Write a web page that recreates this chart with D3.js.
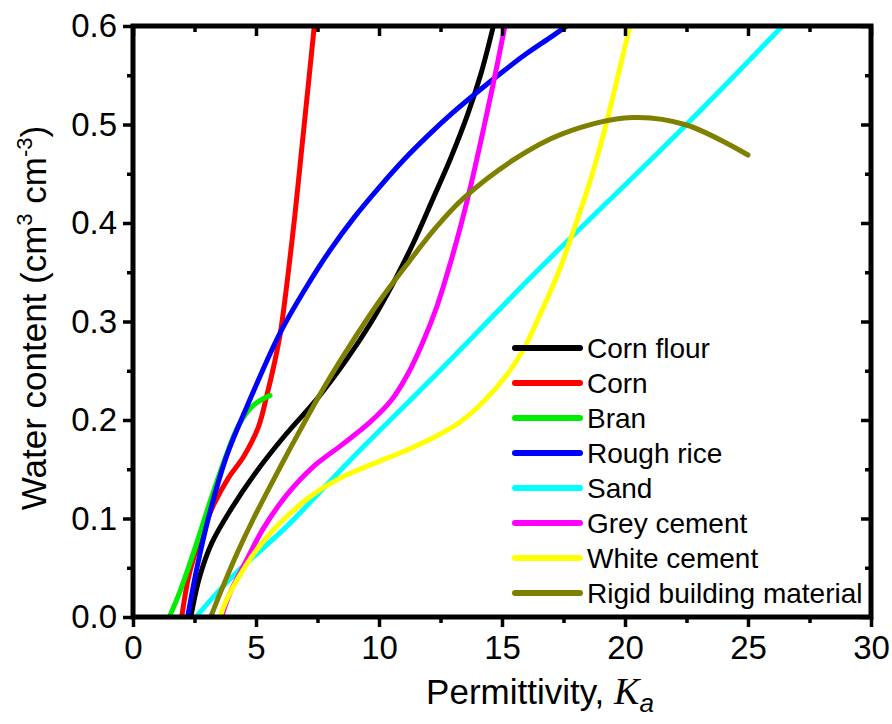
<!DOCTYPE html>
<html>
<head>
<meta charset="utf-8">
<script src="https://cdn.jsdelivr.net/npm/d3@7"></script>
<style>
  html, body { margin: 0; padding: 0; background: #fff; }
  svg { display: block; }
  text { font-family: "Liberation Sans", Arial, sans-serif; fill: #000; }
</style>
</head>
<body>
<svg id="chart" width="892" height="724"></svg>
<script>
// Calibration curves: volumetric water content vs apparent permittivity
const seriesNames = ["Corn flour", "Corn", "Bran", "Rough rice", "Sand", "Grey cement", "White cement", "Rigid building material"];
const seriesColors = ["#000000", "#ff0000", "#00ee00", "#0000ff", "#00ffff", "#ff00ff", "#ffff00", "#808000"];

// [permittivity Ka, water content]
const cornFlour = [[2.35,0],[2.7,0.04],[3.2,0.075],[4.0,0.11],[5.0,0.147],[6.2,0.185],[7.5,0.222],[8.7,0.262],[9.7,0.3],[10.6,0.34],[11.4,0.38],[12.2,0.425],[12.9,0.465],[13.6,0.51],[14.15,0.552],[14.65,0.6]];
const corn = [[1.98,0],[2.3,0.045],[2.8,0.085],[3.3,0.115],[3.9,0.142],[4.5,0.163],[5.1,0.193],[5.45,0.226],[5.75,0.258],[6.0,0.29],[6.5,0.39],[6.92,0.49],[7.37,0.6]];
const bran = [[1.48,0],[1.91,0.026],[2.59,0.075],[3.13,0.117],[3.7,0.158],[4.3,0.195],[4.9,0.215],[5.57,0.225]];
const roughRice = [[2.22,0],[2.6,0.05],[3.06,0.1],[3.8,0.163],[4.62,0.213],[5.95,0.287],[7.0,0.333],[8.0,0.372],[9.0,0.406],[10.0,0.436],[11.0,0.464],[12.0,0.489],[13.0,0.512],[14.0,0.533],[15.0,0.553],[16.0,0.572],[17.0,0.589],[17.63,0.6]];
const sand = [[2.56,0],[3.4,0.024],[4.2,0.045],[6.25,0.092],[8.82,0.159],[12.07,0.24],[16.54,0.354],[22.5,0.5],[26.4,0.6]];
const greyCement = [[3.6,0],[3.94,0.024],[4.62,0.058],[5.3,0.09],[6.25,0.124],[7.3,0.152],[8.5,0.175],[9.6,0.197],[10.5,0.22],[11.2,0.248],[11.8,0.28],[12.35,0.315],[12.85,0.355],[13.3,0.395],[13.75,0.44],[14.2,0.49],[14.65,0.542],[15.12,0.6]];
const whiteCement = [[3.54,0],[3.8,0.017],[4.48,0.048],[5.3,0.077],[6.25,0.102],[7.3,0.124],[8.5,0.142],[9.8,0.156],[11.0,0.168],[12.2,0.182],[13.3,0.198],[14.3,0.22],[15.2,0.246],[15.9,0.273],[16.6,0.31],[17.3,0.35],[17.9,0.392],[18.6,0.444],[19.2,0.497],[19.7,0.548],[20.2,0.6]];
const rigidBuilding = [[3.16,0],[3.54,0.024],[4.2,0.063],[4.9,0.1],[5.98,0.152],[6.8,0.19],[7.74,0.232],[8.8,0.275],[10.0,0.32],[11.2,0.36],[12.3,0.395],[13.43,0.425],[15.46,0.464],[17.4,0.49],[20.3,0.507],[22.5,0.4995],[25.0,0.469]];

const seriesData = [cornFlour, corn, bran, roughRice, sand, greyCement, whiteCement, rigidBuilding];

const xMajor = [0, 5, 10, 15, 20, 25, 30];
const xMinor = [2.5, 7.5, 12.5, 17.5, 22.5, 27.5];
const yMajor = [0.0, 0.1, 0.2, 0.3, 0.4, 0.5, 0.6];
const yMinor = [0.05, 0.15, 0.25, 0.35, 0.45, 0.55];

const svg = d3.select("#chart");
const plotLeft = 133, plotRight = 871, plotTop = 26, plotBottom = 617;

const x = d3.scaleLinear().domain([0, 30]).range([plotLeft, plotRight]);
const y = d3.scaleLinear().domain([0, 0.6]).range([plotBottom, plotTop]);

svg.append("defs").append("clipPath").attr("id", "plotClip")
  .append("rect").attr("x", plotLeft).attr("y", plotTop)
  .attr("width", plotRight - plotLeft).attr("height", plotBottom - plotTop);

// curves
const line = d3.line()
  .x(d => x(d[0]))
  .y(d => y(d[1]))
  .curve(d3.curveCatmullRom.alpha(0.5));

svg.append("g").attr("clip-path", "url(#plotClip)")
  .selectAll("path")
  .data(seriesData)
  .join("path")
  .attr("d", line)
  .attr("fill", "none")
  .attr("stroke", (d, i) => seriesColors[i])
  .attr("stroke-width", 5)
  .attr("stroke-linejoin", "round")
  .attr("stroke-linecap", "round");

// axes
function styleAxis(g) {
  g.select(".domain").remove();
  g.selectAll(".tick line").attr("stroke", "#000").attr("stroke-width", 3.5);
  g.selectAll(".tick text").attr("font-size", 33).attr("font-family", "'Liberation Sans', Arial, sans-serif");
}

svg.append("g").attr("transform", `translate(0,${plotBottom})`)
  .call(d3.axisBottom(x).tickValues(xMajor).tickSize(10).tickPadding(9).tickFormat(d3.format("d")))
  .call(styleAxis);
svg.append("g").attr("transform", `translate(0,${plotBottom})`)
  .call(d3.axisBottom(x).tickValues(xMinor).tickSize(6).tickFormat(""))
  .call(styleAxis);
svg.append("g").attr("transform", `translate(0,${plotTop})`)
  .call(d3.axisBottom(x).tickValues(xMajor).tickSize(10).tickFormat(""))
  .call(styleAxis);
svg.append("g").attr("transform", `translate(0,${plotTop})`)
  .call(d3.axisBottom(x).tickValues(xMinor).tickSize(6).tickFormat(""))
  .call(styleAxis);

svg.append("g").attr("transform", `translate(${plotLeft},0)`)
  .call(d3.axisLeft(y).tickValues(yMajor).tickSize(10).tickPadding(6).tickFormat(d3.format(".1f")))
  .call(styleAxis);
svg.append("g").attr("transform", `translate(${plotLeft},0)`)
  .call(d3.axisLeft(y).tickValues(yMinor).tickSize(6).tickFormat(""))
  .call(styleAxis);
svg.append("g").attr("transform", `translate(${plotRight},0)`)
  .call(d3.axisLeft(y).tickValues(yMajor).tickSize(10).tickFormat(""))
  .call(styleAxis);
svg.append("g").attr("transform", `translate(${plotRight},0)`)
  .call(d3.axisLeft(y).tickValues(yMinor).tickSize(6).tickFormat(""))
  .call(styleAxis);

// frame
svg.append("rect")
  .attr("x", plotLeft).attr("y", plotTop)
  .attr("width", plotRight - plotLeft).attr("height", plotBottom - plotTop)
  .attr("fill", "none").attr("stroke", "#000").attr("stroke-width", 5);

// axis titles
const xt = svg.append("text")
  .attr("x", 540).attr("y", 704)
  .attr("text-anchor", "middle")
  .attr("font-size", 35);
xt.append("tspan").text("Permittivity, ");
xt.append("tspan").text("K").attr("font-family", "'Liberation Serif', 'Times New Roman', serif").attr("font-style", "italic").attr("font-size", 38);
xt.append("tspan").text("a").attr("font-style", "italic").attr("font-size", 26).attr("dy", 8);

const yt = svg.append("text")
  .attr("transform", "translate(46,318) rotate(-90)")
  .attr("text-anchor", "middle")
  .attr("font-size", 35);
yt.append("tspan").text("Water content (cm");
yt.append("tspan").text("3").attr("font-size", 22).attr("dy", -14);
yt.append("tspan").text(" cm").attr("dy", 14);
yt.append("tspan").text("-3").attr("font-size", 22).attr("dy", -14);
yt.append("tspan").text(")").attr("dy", 14);

// legend
const legend = svg.append("g");
const legendRows = legend.selectAll("g")
  .data(seriesNames)
  .join("g")
  .attr("transform", (d, i) => `translate(515,${348 + i * 35})`);
legendRows.append("line")
  .attr("x1", 0).attr("x2", 65).attr("y1", 0).attr("y2", 0)
  .attr("stroke", (d, i) => seriesColors[i])
  .attr("stroke-width", 6)
  .attr("stroke-linecap", "round");
legendRows.append("text")
  .attr("x", 72).attr("y", 10)
  .attr("font-size", 28)
  .text(d => d);
</script>
</body>
</html>
